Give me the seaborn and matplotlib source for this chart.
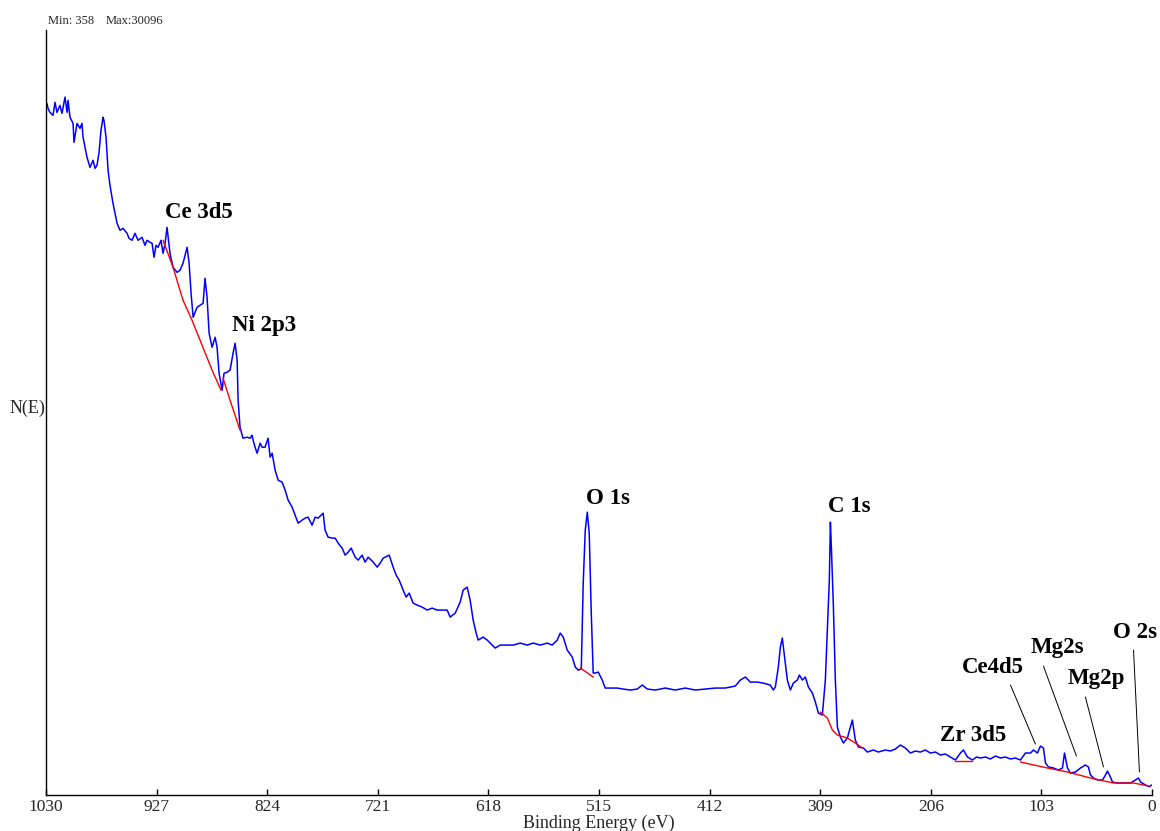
import numpy as np
import pandas as pd
import matplotlib
matplotlib.use("Agg")
import matplotlib.pyplot as plt
import seaborn as sns

# XPS survey spectrum: binding energy (eV) and counts N(E)
binding_energy = [
    1029.1, 1028.1, 1026.3, 1023.5, 1021.6, 1019.8, 1017.0, 1015.1, 1012.3, 1010.4,
    1009.5, 1007.6, 1004.8, 1003.9, 1001.1, 998.3, 996.5, 995.5, 991.8, 989.0,
    986.2, 984.3, 982.5, 980.6, 978.8, 976.9, 976.0, 974.1, 972.2, 970.4,
    967.6, 965.7, 963.8, 961.1, 958.3, 954.5, 952.7, 949.9, 947.1, 944.3,
    940.6, 937.8, 935.9, 933.1, 931.2, 929.4, 927.5, 925.6, 922.9, 921.0,
    919.1, 917.3, 914.5, 911.7, 907.9, 905.2, 902.4, 898.6, 896.8, 894.9,
    893.0, 889.3, 886.5, 883.7, 881.9, 880.0, 878.1, 875.3, 872.5, 870.7,
    868.8, 866.0, 864.2, 861.4, 858.6, 855.8, 853.9, 852.0, 851.1, 849.3,
    846.5, 842.7, 839.9, 838.1, 837.1, 835.3, 833.4, 830.6, 828.8, 826.0,
    823.2, 821.3, 819.4, 816.6, 813.8, 810.1, 807.3, 804.5, 800.8, 798.0,
    795.2, 791.5, 788.7, 785.9, 782.2, 779.4, 776.6, 771.9, 770.1, 767.3,
    763.5, 760.7, 757.9, 754.2, 751.4, 748.6, 745.8, 742.1, 739.3, 735.6,
    732.8, 730.0, 725.3, 721.6, 718.8, 716.0, 710.4, 706.7, 703.9, 701.1,
    697.4, 694.6, 691.8, 688.1, 684.3, 679.7, 675.0, 670.4, 665.7, 661.1,
    656.4, 653.6, 648.9, 644.3, 641.5, 637.8, 635.0, 632.2, 629.4, 627.5,
    622.9, 619.1, 616.3, 611.7, 607.0, 600.5, 594.9, 588.4, 581.9, 576.3,
    569.7, 563.2, 558.6, 553.9, 551.1, 548.3, 544.6, 539.9, 537.1, 534.3,
    531.5, 529.7, 527.8, 525.9, 524.1, 522.2, 520.4, 518.5, 515.7, 512.0,
    509.2, 504.5, 498.0, 492.4, 485.9, 479.4, 474.7, 470.0, 462.6, 453.3,
    444.0, 434.6, 425.3, 416.0, 406.7, 397.4, 388.1, 383.4, 378.7, 374.1,
    367.6, 362.0, 355.5, 352.7, 350.8, 348.0, 346.1, 344.3, 343.3, 339.6,
    336.8, 334.0, 330.3, 328.4, 325.6, 322.8, 320.0, 316.3, 313.5, 310.7,
    307.0, 304.2, 302.3, 300.5, 299.5, 298.6, 296.7, 294.9, 293.0, 290.2,
    287.4, 283.7, 280.9, 279.0, 278.1, 276.3, 273.5, 268.8, 265.1, 259.5,
    254.8, 248.3, 243.6, 239.0, 234.3, 229.7, 225.0, 220.4, 215.7, 211.0,
    206.4, 201.7, 197.0, 192.4, 187.7, 183.1, 178.4, 175.6, 171.9, 167.2,
    163.5, 159.8, 155.1, 150.5, 145.8, 141.1, 136.5, 131.8, 127.2, 122.5,
    117.9, 113.2, 110.4, 106.7, 103.9, 101.1, 99.2, 96.4, 91.8, 87.1,
    83.4, 81.5, 78.7, 76.0, 71.3, 66.6, 62.0, 59.2, 57.3, 54.5,
    50.8, 46.1, 43.3, 41.5, 39.6, 36.8, 32.2, 26.6, 20.0, 15.4,
    12.6, 10.7, 6.0, 2.3, 0.5,
]
counts = [
    29825, 29610, 29437, 29308, 29868, 29437, 29739, 29394, 30096, 29437,
    29955, 29222, 28963, 28144, 28963, 28748, 28963, 28360, 27498, 27067,
    27369, 27024, 27153, 27713, 28662, 29222, 29093, 28360, 26938, 26291,
    25515, 25084, 24653, 24352, 24438, 24222, 24007, 23921, 24222, 23921,
    24050, 23705, 23921, 23834, 23791, 23188, 23705, 23619, 23921, 23360,
    23791, 24481, 23360, 22757, 22541, 22628, 22929, 23619, 22972, 21636,
    20602, 21033, 21119, 21205, 22283, 21464, 19912, 19309, 19740, 19309,
    18188, 17456, 18188, 18231, 18318, 19050, 19481, 18749, 17025, 15861,
    15387, 15430, 15387, 15516, 15301, 14999, 14740, 15171, 14999, 14999,
    15387, 14568, 14740, 14008, 13577, 13490, 13146, 12715, 12413, 12068,
    11723, 11853, 11939, 11982, 11637, 11982, 11939, 12154, 11422, 11120,
    11077, 11077, 10861, 10646, 10344, 10473, 10646, 10258, 10129, 10344,
    10042, 10258, 10042, 9827, 9999, 10215, 10344, 9827, 9482, 9267,
    8836, 8534, 8706, 8275, 8189, 8103, 7974, 8060, 7974, 7974,
    7974, 7672, 7844, 8318, 8836, 8965, 8405, 7543, 6982, 6681,
    6810, 6681, 6551, 6336, 6465, 6465, 6465, 6551, 6465, 6551,
    6465, 6551, 6465, 6681, 6982, 6810, 6250, 5948, 5517, 5388,
    5431, 9137, 11422, 12197, 11292, 7844, 5258, 5258, 5301, 4957,
    4612, 4612, 4612, 4569, 4526, 4569, 4741, 4569, 4526, 4612,
    4526, 4612, 4526, 4569, 4612, 4612, 4698, 4957, 5086, 4870,
    4870, 4827, 4741, 4526, 4655, 5517, 6379, 6767, 6379, 4957,
    4526, 4827, 4957, 5172, 4957, 5086, 4655, 4396, 4008, 3534,
    3448, 4957, 7112, 9267, 11766, 10689, 8103, 4957, 2931, 2500,
    2241, 2457, 2931, 3233, 2931, 2371, 2069, 2026, 1853, 1940,
    1853, 1940, 1896, 1983, 2155, 2026, 1810, 1896, 1853, 1940,
    1810, 1853, 1724, 1767, 1638, 1509, 1810, 1940, 1638, 1509,
    1638, 1595, 1638, 1552, 1681, 1595, 1638, 1552, 1595, 1509,
    1810, 1810, 1940, 1810, 2112, 2026, 1379, 1207, 1164, 1078,
    1164, 1810, 1164, 948, 991, 1164, 1293, 1207, 862, 733,
    647, 647, 862, 1034, 862, 560, 517, 517, 517, 647,
    733, 560, 431, 358, 431,
]

# Fitted backgrounds under the quantified peaks
bg_ce_be = [921.0, 911.7, 902.4, 894.0, 886.5, 875.3, 867.0]
bg_ce_counts = [23921, 22757, 21335, 20473, 19611, 18318, 17456]
bg_ni_be = [865.1, 858.6, 849.3]
bg_ni_counts = [17973, 17025, 15732]
bg_o1s_be = [532.5, 526.9, 520.4]
bg_o1s_counts = [5474, 5301, 5086]
bg_c1s_be = [308.9, 302.3, 297.7, 293.0, 283.7, 276.3, 269.7]
bg_c1s_counts = [3577, 3319, 2802, 2586, 2457, 2241, 2026]
bg_zr_be = [183.1, 167.2]
bg_zr_counts = [1465, 1465]
bg_low_be = [122.5, 97.4, 78.7, 57.3, 35.9, 17.2, 3.3]
bg_low_counts = [1422, 1164, 991, 733, 517, 517, 388]

# Peak labels: text, BE of left edge, counts at text centre
peak_labels = ["Ce 3d5", "Ni 2p3", "O 1s", "C 1s", "Zr 3d5", "Ce4d5", "Mg2s", "Mg2p", "O 2s"]
label_be = [919.1, 856.7, 526.9, 301.4, 197.0, 176.6, 113.2, 78.7, 35.9]
label_counts = [25127, 20257, 12801, 12456, 2586, 5517, 6379, 5043, 7025]

# Leader lines from small-peak labels down to their peaks
leader_be = [(131.8, 108.6), (101.1, 70.4), (62.0, 45.2), (17.2, 11.7)]
leader_counts = [(4741, 2198), (5560, 1681), (4224, 1207), (6250, 991)]

tick_values = [1030, 927, 824, 721, 618, 515, 412, 309, 206, 103, 0]

sns.set_style("white")
plt.rcParams["font.family"] = ["Liberation Serif", "DejaVu Serif"]

fig = plt.figure(figsize=(11.6, 8.31), dpi=100)
ax = fig.add_axes([46 / 1160, 1 - 795 / 831, 1106 / 1160, 765 / 831])

spec = pd.DataFrame({"be": binding_energy, "n": counts})
sns.lineplot(data=spec, x="be", y="n", ax=ax, color="#0000ff", lw=1.1,
             estimator=None, sort=False)

for bx, by in [(bg_ce_be, bg_ce_counts), (bg_ni_be, bg_ni_counts),
               (bg_o1s_be, bg_o1s_counts), (bg_c1s_be, bg_c1s_counts),
               (bg_zr_be, bg_zr_counts), (bg_low_be, bg_low_counts)]:
    sns.lineplot(x=bx, y=by, ax=ax, color="#ff0000", lw=1.0,
                 estimator=None, sort=False)

for (x0, x1), (y0, y1) in zip(leader_be, leader_counts):
    ax.plot([x0, x1], [y0, y1], color="black", lw=0.7)

for txt, bx, by in zip(peak_labels, label_be, label_counts):
    ax.text(bx, by, txt, ha="left", va="center", fontsize=16.5,
            fontweight="bold", color="black")

ax.set_xlim(1030, 0)
ax.set_ylim(0, 32990)
ax.set_xticks(tick_values)
ax.set_xticklabels([str(v) for v in tick_values])
ax.set_yticks([])
ax.tick_params(axis="x", direction="in", length=4, width=1, color="black",
               labelsize=12.5, pad=3, bottom=True)

for side in ["top", "right"]:
    ax.spines[side].set_visible(False)
for side in ["left", "bottom"]:
    ax.spines[side].set_color("black")
    ax.spines[side].set_linewidth(1.0)

ax.set_xlabel("Binding Energy (eV)", fontsize=13, labelpad=-0.5)
ax.set_ylabel("N(E)", fontsize=13, rotation=0, ha="right", va="center")
ax.yaxis.set_label_coords(-0.001, 0.506)

fig.text(48 / 1160, 1 - 21 / 831, "Min: 358", fontsize=9, va="center", ha="left")
fig.text(106 / 1160, 1 - 21 / 831, "Max:30096", fontsize=9, va="center", ha="left")

fig.savefig("out.png", dpi=100, facecolor="white")
